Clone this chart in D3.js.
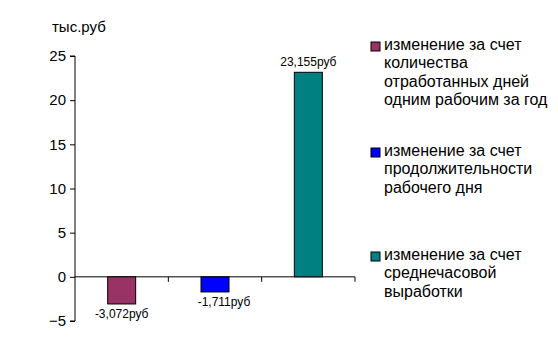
<!DOCTYPE html>
<html><head><meta charset="utf-8">
<script src="https://cdn.jsdelivr.net/npm/d3@7"></script>
<style>body{margin:0;background:#fff}svg{display:block}text{font-family:"Liberation Sans",Arial,sans-serif}</style>
</head><body>
<svg id="c" width="558" height="339"></svg>
<script>
const categories = ["изменение за счет количества отработанных дней одним рабочим за год","изменение за счет продолжительности рабочего дня","изменение за счет среднечасовой выработки"];
const legendLines = [["изменение за счет","количества","отработанных дней","одним рабочим за год"],["изменение за счет","продолжительности","рабочего дня"],["изменение за счет","среднечасовой","выработки"]];
const values = [-3.072, -1.711, 23.155];
const valueLabels = ["-3,072руб","-1,711руб","23,155руб"];
const colors = ["#993366","#0000FF","#008080"];
const yTicks = [-5,0,5,10,15,20,25];
const yUnit = "тыс.руб";

const svg = d3.select("#c");
const x = d3.scaleBand().domain(d3.range(values.length)).range([75,355]).paddingInner(0).paddingOuter(0);
const y = d3.scaleLinear().domain([-5,25]).range([321,56]);

// y axis
const ya = svg.append("g").attr("transform","translate(75,0)")
  .call(d3.axisLeft(y).tickValues(yTicks).tickSize(5).tickPadding(4).tickFormat(d3.format("d")));
ya.select(".domain").attr("d","M-5,"+y(25)+"H0V"+y(-5)+"H-5");
ya.selectAll("line,path").attr("stroke","#000");
ya.selectAll("text").attr("font-size",15).attr("fill","#000").attr("font-family","Liberation Sans, Arial, sans-serif");

// x axis line at zero
const xa = svg.append("g");
xa.append("line").attr("x1",75).attr("x2",355).attr("y1",y(0)).attr("y2",y(0)).attr("stroke","#000");
xa.selectAll("line.t").data(d3.range(1,values.length+1)).join("line").attr("class","t")
  .attr("x1",i=>x(i-1)+x.bandwidth()).attr("x2",i=>x(i-1)+x.bandwidth())
  .attr("y1",y(0)).attr("y2",y(0)+5).attr("stroke","#000");

// bars
const bw = x.bandwidth()*0.3;
svg.selectAll("rect.bar").data(values).join("rect").attr("class","bar")
  .attr("x",(d,i)=>x(i)+x.bandwidth()/2-bw/2).attr("width",bw)
  .attr("y",d=>y(Math.max(0,d))).attr("height",d=>Math.abs(y(d)-y(0)))
  .attr("fill",(d,i)=>colors[i]).attr("stroke","#000").attr("stroke-width",1);

// value labels (second label sits slightly right of its bar in the original)
svg.selectAll("text.vl").data(values).join("text").attr("class","vl")
  .attr("x",(d,i)=>x(i)+x.bandwidth()/2 + (i===1 ? 9 : 0))
  .attr("y",d=> d>=0 ? y(d)-6 : y(d)+14)
  .attr("text-anchor","middle").attr("font-size",12).attr("fill","#000")
  .text((d,i)=>valueLabels[i]);

// unit label
svg.append("text").attr("x",52).attr("y",32).attr("font-size",15).attr("fill","#000").text(yUnit);

// legend
const legendTop = [50,156,260];
const lg = svg.selectAll("g.lg").data(legendLines).join("g").attr("class","lg")
  .attr("transform",(d,i)=>`translate(371,${legendTop[i]})`);
lg.append("rect").attr("x",0).attr("y",-8).attr("width",9).attr("height",9)
  .attr("fill",(d,i)=>colors[i]).attr("stroke","#000");
lg.each(function(lines){
  d3.select(this).selectAll("text").data(lines).join("text")
    .attr("x",13).attr("y",(d,j)=>j*18.4).attr("font-size",16).attr("fill","#000").text(d=>d);
});
</script>
</body></html>
